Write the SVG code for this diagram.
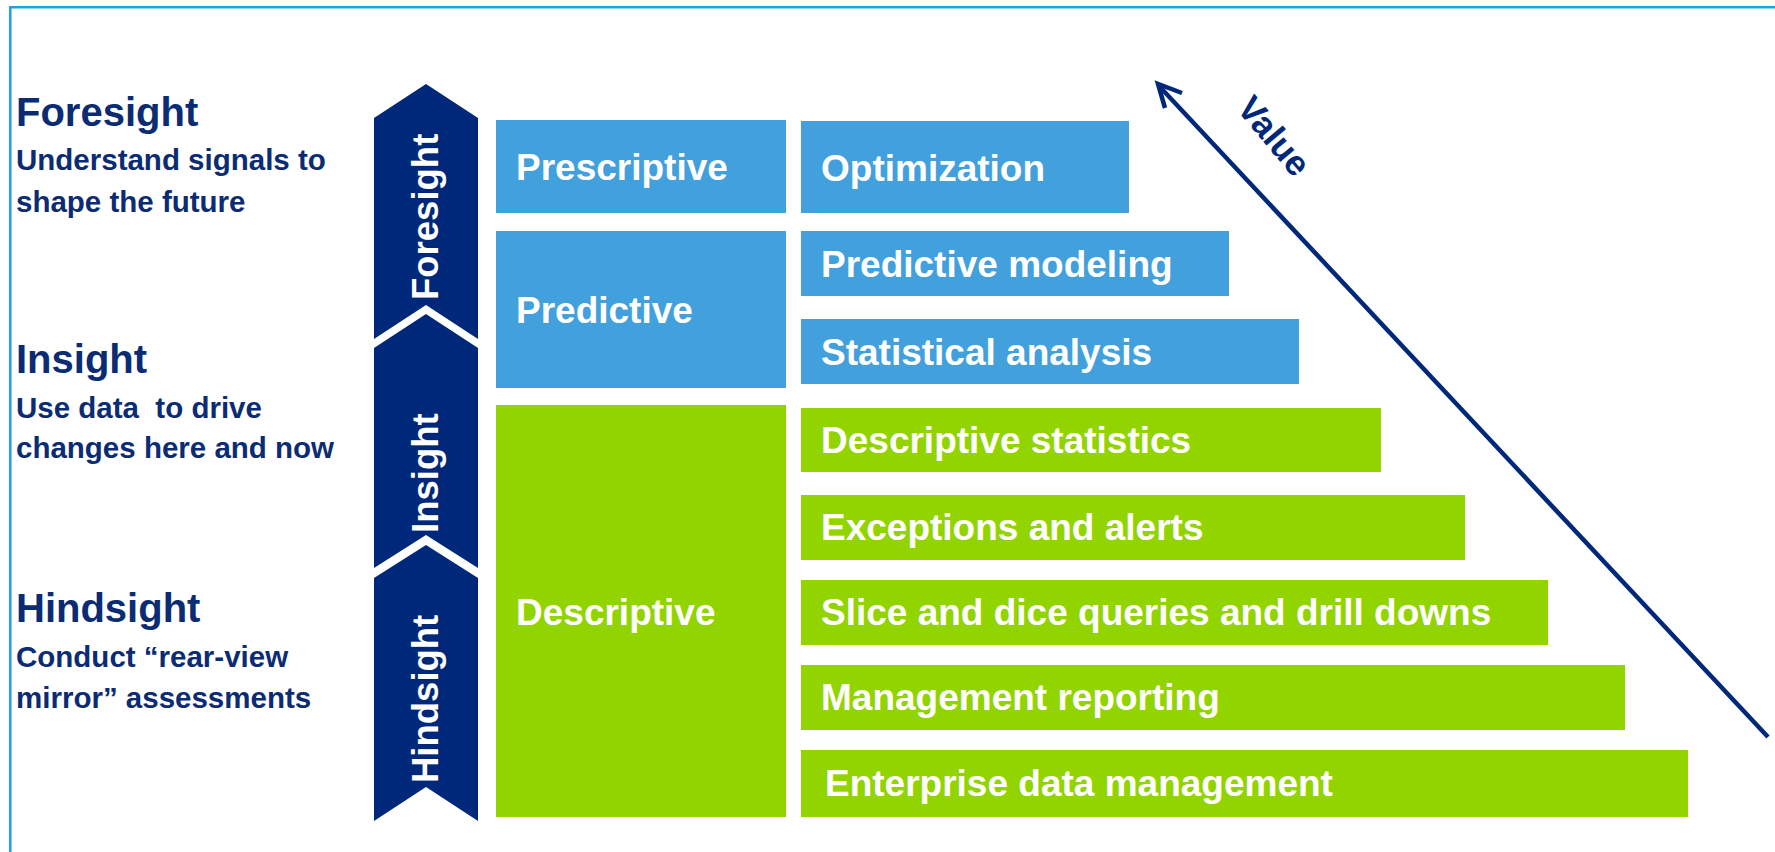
<svg xmlns="http://www.w3.org/2000/svg" width="1775" height="852" viewBox="0 0 1775 852">
<style>
.hd{font-family:"Liberation Sans",Arial,sans-serif;font-weight:bold;font-size:40px;fill:#0b2b73}
.sub{font-family:"Liberation Sans",Arial,sans-serif;font-weight:bold;font-size:29.5px;fill:#0b2b73}
.chev{fill:#00287a}
.ct{font-family:"Liberation Sans",Arial,sans-serif;font-weight:bold;font-size:36.5px;fill:#ffffff}
.blue{fill:#42a0dc}
.green{fill:#92d400}
.bt{font-family:"Liberation Sans",Arial,sans-serif;font-weight:bold;font-size:37px;fill:#ffffff}
.val{font-family:"Liberation Sans",Arial,sans-serif;font-weight:bold;font-size:35px;fill:#00287a}
</style>
<rect width="1775" height="852" fill="#ffffff"/>
<g id="frame" fill="none" stroke="#1aa3e0" stroke-width="2.5">
<path d="M10.3,852 L10.3,7.3 L1775,7.3"/>
</g>
<g id="left-foresight">
<text class="hd" x="16" y="126">Foresight</text>
<text class="sub" x="16" y="170">Understand signals to</text>
<text class="sub" x="16" y="212">shape the future</text>
</g>
<g id="left-insight">
<text class="hd" x="16" y="373">Insight</text>
<text class="sub" x="16" y="418" xml:space="preserve">Use data  to drive</text>
<text class="sub" x="16" y="458">changes here and now</text>
</g>
<g id="left-hindsight">
<text class="hd" x="16" y="622">Hindsight</text>
<text class="sub" x="16" y="667">Conduct “rear-view</text>
<text class="sub" x="16" y="708">mirror” assessments</text>
</g>
<g id="chevron-foresight">
<path class="chev" d="M374,118 L426,84 L478,118 L478,339 L426,305 L374,339 Z"/>
<text class="ct" transform="translate(438,300) rotate(-90)">Foresight</text>
</g>
<g id="chevron-insight">
<path class="chev" d="M374,348 L426,314 L478,348 L478,568 L426,535 L374,568 Z"/>
<text class="ct" transform="translate(438,533) rotate(-90)">Insight</text>
</g>
<g id="chevron-hindsight">
<path class="chev" d="M374,578 L426,545 L478,578 L478,821 L426,787 L374,821 Z"/>
<text class="ct" transform="translate(438,783) rotate(-90)">Hindsight</text>
</g>
<g id="prescriptive">
<rect class="blue" x="496" y="120" width="290" height="93"/>
<text class="bt" x="516" y="180">Prescriptive</text>
</g>
<g id="predictive">
<rect class="blue" x="496" y="231" width="290" height="157"/>
<text class="bt" x="516" y="323">Predictive</text>
</g>
<g id="descriptive">
<rect class="green" x="496" y="405" width="290" height="412"/>
<text class="bt" x="516" y="625">Descriptive</text>
</g>
<g id="optimization">
<rect class="blue" x="801" y="121" width="328" height="92"/>
<text class="bt" x="821" y="181">Optimization</text>
</g>
<g id="predictive-modeling">
<rect class="blue" x="801" y="231" width="428" height="65"/>
<text class="bt" x="821" y="277">Predictive modeling</text>
</g>
<g id="statistical-analysis">
<rect class="blue" x="801" y="319" width="498" height="65"/>
<text class="bt" x="821" y="365">Statistical analysis</text>
</g>
<g id="descriptive-statistics">
<rect class="green" x="801" y="408" width="580" height="64"/>
<text class="bt" x="821" y="453">Descriptive statistics</text>
</g>
<g id="exceptions-alerts">
<rect class="green" x="801" y="495" width="664" height="65"/>
<text class="bt" x="821" y="540">Exceptions and alerts</text>
</g>
<g id="slice-dice">
<rect class="green" x="801" y="580" width="747" height="65"/>
<text class="bt" x="821" y="625">Slice and dice queries and drill downs</text>
</g>
<g id="management-reporting">
<rect class="green" x="801" y="665" width="824" height="65"/>
<text class="bt" x="821" y="710">Management reporting</text>
</g>
<g id="enterprise-data">
<rect class="green" x="801" y="750" width="887" height="67"/>
<text class="bt" x="825" y="796">Enterprise data management</text>
</g>
<g id="connectors" fill="none" stroke="#00287a" stroke-width="4.5" stroke-linecap="butt">
<path d="M1768,737 L1160,87"/>
<path d="M1182,93 L1158,84 L1165,108" stroke-linejoin="miter"/>
</g>
<g id="value-label">
<text class="val" text-anchor="middle" transform="translate(1274,136) rotate(50)" y="12">Value</text>
</g>
</svg>
